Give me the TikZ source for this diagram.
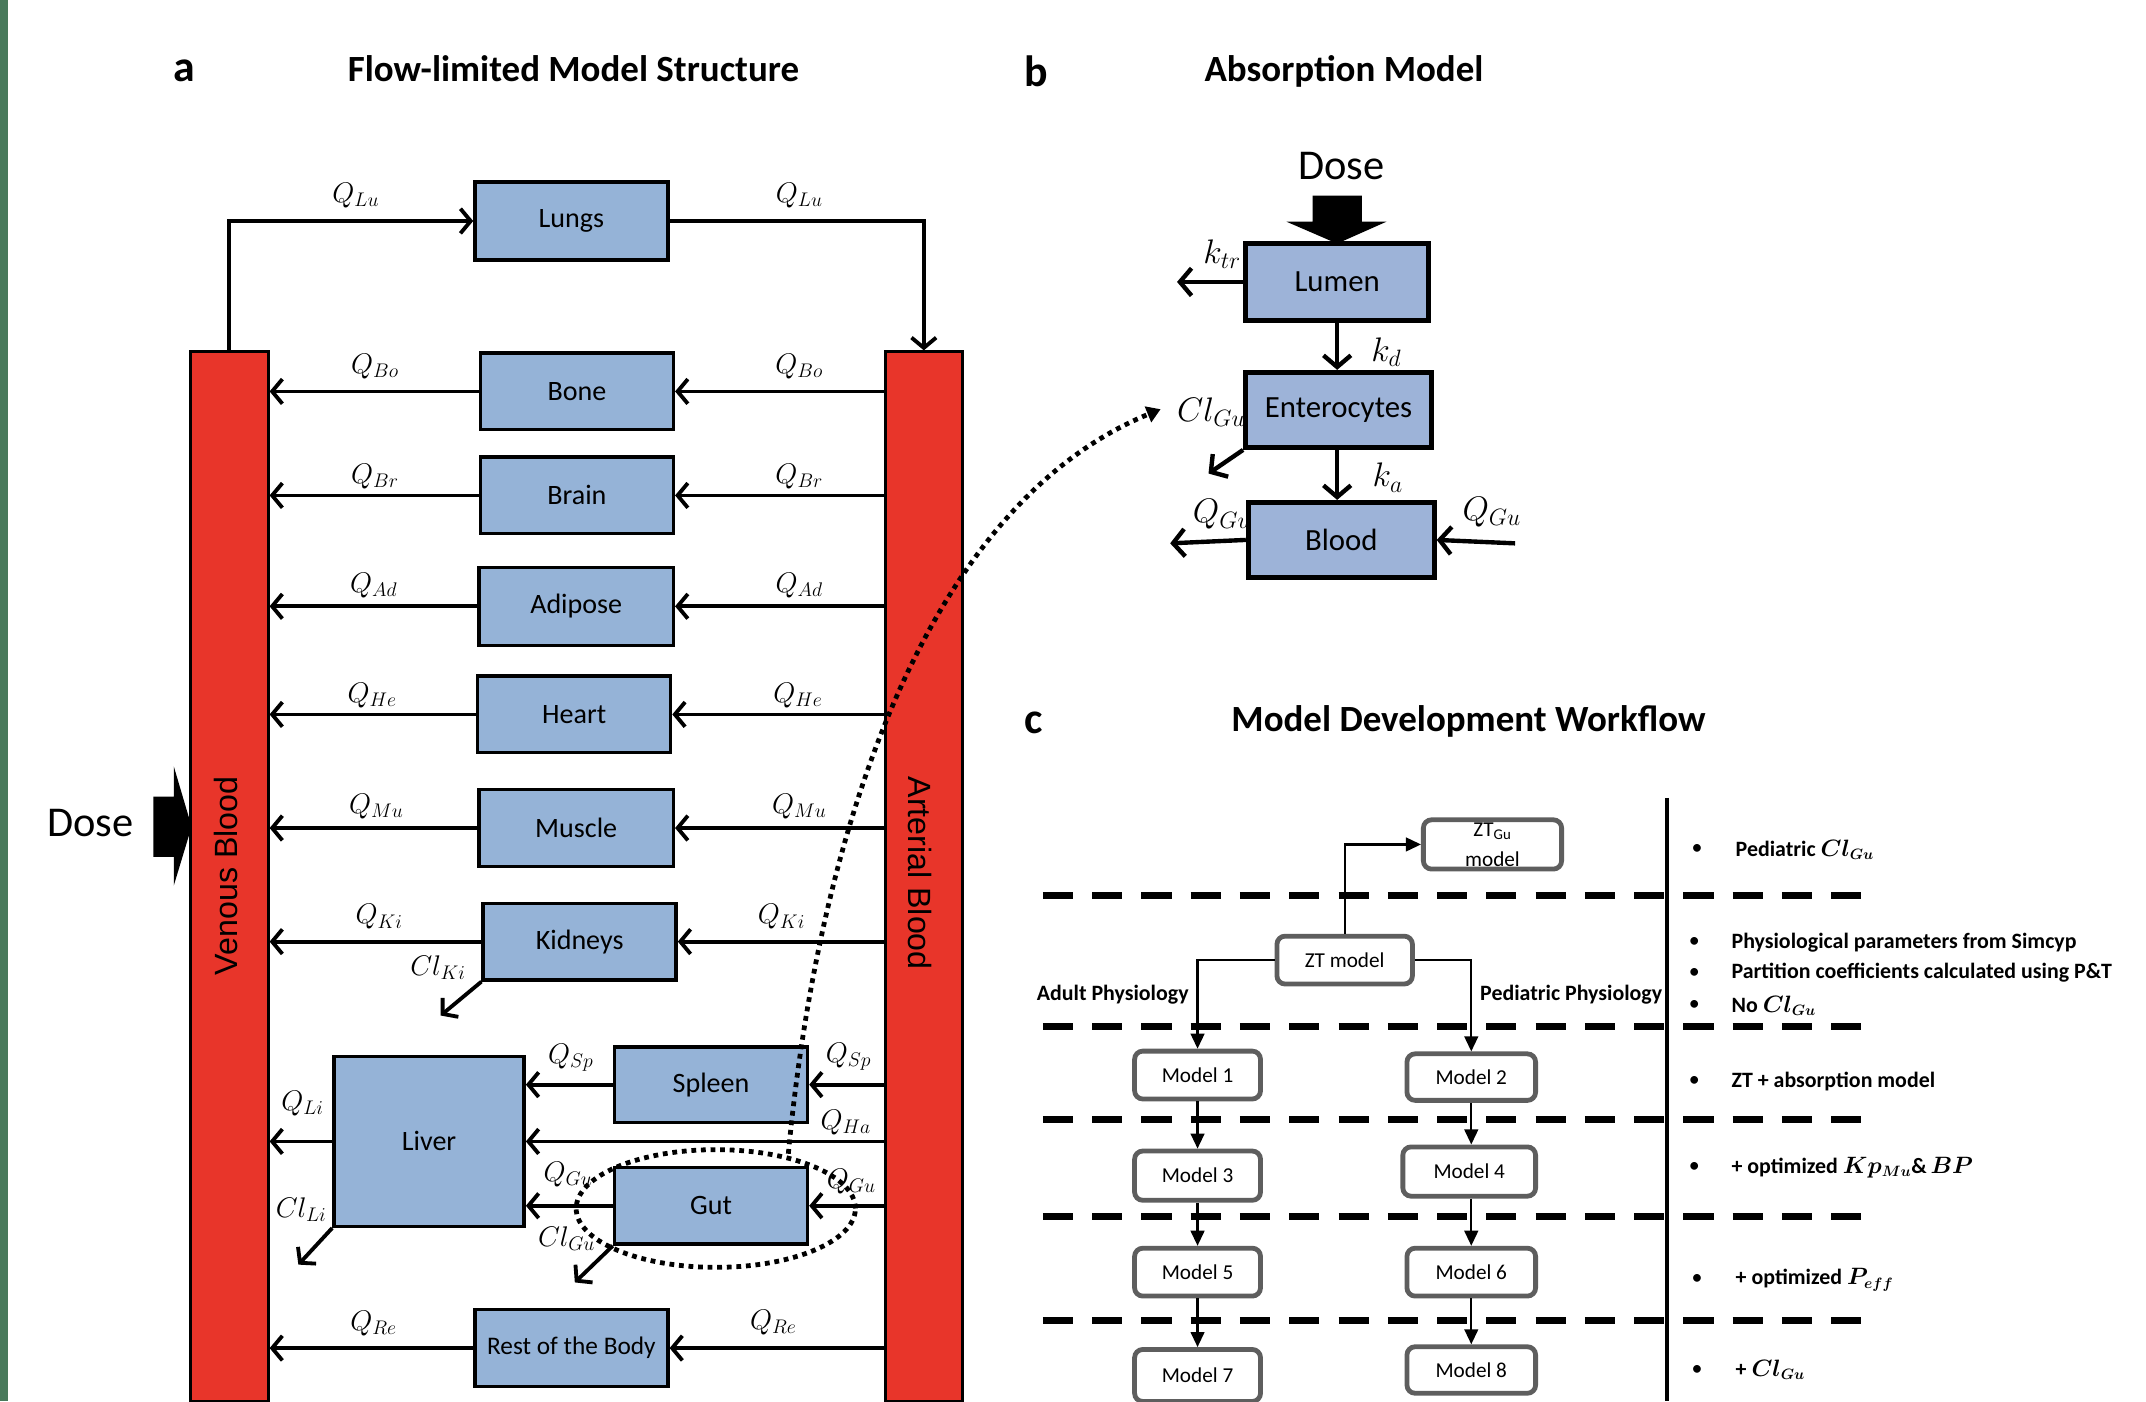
\documentclass[tikz,border=0pt]{standalone}
\usepackage{fontspec}
\setmainfont{Carlito}
\newfontfamily\arialf{Liberation Sans}
\usetikzlibrary{arrows.meta,shapes.geometric}
\definecolor{organblue}{HTML}{95B3D7}
\definecolor{absblue}{HTML}{9DB3D8}
\definecolor{bloodred}{HTML}{E8352A}
\definecolor{stripgreen}{HTML}{497A5B}
\definecolor{boxgray}{HTML}{5E5E5E}
\newcommand\fsz[2]{\fontsize{#1}{#2}\selectfont}
\begin{document}
\begin{tikzpicture}[x=1pt,y=-1pt,
  organ/.style={draw, line width=2.5pt, fill=organblue, inner sep=0pt, font=\fsz{20.5}{24}},
  absbox/.style={draw, line width=3.5pt, fill=absblue, inner sep=0pt, font=\fsz{22.5}{26}},
  bloodbar/.style={draw, line width=2pt, fill=bloodred, inner sep=0pt},
  flow/.style={line width=2.8pt, -{Straight Barb[length=7.5pt,width=18pt]}},
  aflow/.style={line width=3.2pt, -{Straight Barb[length=8.5pt,width=20pt]}},
  qlab/.style={font=\fsz{21}{24}, inner sep=0pt},
  alab/.style={font=\fsz{24}{28}, inner sep=0pt},
  title/.style={font=\fsz{27}{31}\bfseries, inner sep=0pt},
  panel/.style={font=\fsz{32}{36}\bfseries, inner sep=0pt},
  dotline/.style={line width=3.5pt, dash pattern=on 3.5pt off 3.5pt},
  mbox/.style={draw=boxgray, line width=3.5pt, rounded corners=6pt, fill=white, inner sep=0pt, font=\fsz{15.5}{18}},
  wflow/.style={line width=1.6pt, -{Triangle[length=11pt,width=10pt]}},
  sep/.style={line width=5pt, dash pattern=on 22pt off 14pt},
  ctext/.style={font=\fsz{16}{19}\bfseries\boldmath, inner sep=0pt, anchor=west},
  bul/.style={font=\fsz{16}{19}, inner sep=0pt}
]
\useasboundingbox (0,0) rectangle (1568,1024);
\fill[white] (0,0) rectangle (1568,1024);
\fill[stripgreen] (0,0) rectangle (6,1024);

% ---------------- Panel a ----------------
\node[panel] (la) at (135,52) {a};
\node[title] (ta) at (419,50) {Flow-limited Model Structure};

\node[bloodbar, minimum width=57pt, minimum height=767pt] (ven) at (167.5,640.5) {};
\node[bloodbar, minimum width=56pt, minimum height=767pt] (art) at (675,640.5) {};
\node[rotate=90, font=\arialf\fsz{23.5}{27}, inner sep=0pt] (ventext) at (165,640) {Venous Blood};
\node[rotate=-90, font=\arialf\fsz{23.5}{27}, inner sep=0pt] (arttext) at (672,638) {Arterial Blood};

\node[organ, minimum width=141pt, minimum height=57pt] (lungs) at (417.5,161.5) {Lungs};
\node[organ, minimum width=141pt, minimum height=56pt] (bone) at (421.5,286) {Bone};
\node[organ, minimum width=141pt, minimum height=56pt] (brain) at (421.5,362) {Brain};
\node[organ, minimum width=142pt, minimum height=57pt] (adipose) at (421,443) {Adipose};
\node[organ, minimum width=141pt, minimum height=56pt] (heart) at (419.5,522) {Heart};
\node[organ, minimum width=142pt, minimum height=56pt] (muscle) at (421,605) {Muscle};
\node[organ, minimum width=141pt, minimum height=56pt] (kidneys) at (423.5,688) {Kidneys};
\node[organ, minimum width=141pt, minimum height=55pt] (spleen) at (519.5,792.5) {Spleen};
\node[organ, minimum width=139pt, minimum height=124pt] (liver) at (313.5,834) {Liver};
\node[organ, minimum width=141pt, minimum height=56pt] (gut) at (519.5,881) {Gut};
\node[organ, minimum width=141pt, minimum height=56pt, font=\fsz{18.5}{21}] (rest) at (417.5,985) {Rest of the Body};

% lungs loop
\draw[flow] (ven.north) |- (lungs.west);
\draw[flow] (lungs.east) -| (art.north);
\node[qlab] (qlu1) at (260,143) {$Q_{Lu}$};
\node[qlab] (qlu2) at (584,143) {$Q_{Lu}$};

% organ rows
\foreach \o in {bone,brain,adipose,heart,muscle,kidneys,rest}{
  \draw[flow] (art.west |- \o.east) -- (\o.east);
  \draw[flow] (\o.west) -- (ven.east |- \o.west);
}
\node[qlab] (qbo1) at (274,268) {$Q_{Bo}$};
\node[qlab] (qbo2) at (584,268) {$Q_{Bo}$};
\node[qlab] (qbr1) at (274,348) {$Q_{Br}$};
\node[qlab] (qbr2) at (584,348) {$Q_{Br}$};
\node[qlab] (qad1) at (273,428) {$Q_{Ad}$};
\node[qlab] (qad2) at (584,428) {$Q_{Ad}$};
\node[qlab] (qhe1) at (272,508) {$Q_{He}$};
\node[qlab] (qhe2) at (583,508) {$Q_{He}$};
\node[qlab] (qmu1) at (275,589) {$Q_{Mu}$};
\node[qlab] (qmu2) at (584,589) {$Q_{Mu}$};
\node[qlab] (qki1) at (277,670) {$Q_{Ki}$};
\node[qlab] (qki2) at (571,670) {$Q_{Ki}$};
\node[qlab] (clki) at (320,707) {$Cl_{Ki}$};
\coordinate (clkiend) at (322,742);
\draw[flow] (kidneys.south west) -- (clkiend);
\node[qlab] (qre1) at (273,967) {$Q_{Re}$};
\node[qlab] (qre2) at (565,966) {$Q_{Re}$};

% splanchnic
\draw[flow] (art.west |- spleen.east) -- (spleen.east);
\draw[flow] (spleen.west) -- (liver.east |- spleen.west);
\draw[flow] (art.west |- liver.east) -- (liver.east);
\draw[flow] (art.west |- gut.east) -- (gut.east);
\draw[flow] (gut.west) -- (liver.east |- gut.west);
\draw[flow] (liver.west) -- (ven.east |- liver.west);
\coordinate (cliend) at (218,924);
\draw[flow] (liver.south west) -- (cliend);
\coordinate (clguend) at (420,937);
\draw[flow] (gut.south west) -- (clguend);
\node[qlab] (qsp1) at (417,773) {$Q_{Sp}$};
\node[qlab] (qsp2) at (620,772) {$Q_{Sp}$};
\node[qlab] (qha) at (618,820) {$Q_{Ha}$};
\node[qlab] (qli) at (221,806) {$Q_{Li}$};
\node[qlab] (qgu1) at (415,858) {$Q_{Gu}$};
\node[qlab] (qgu2) at (622,863) {$Q_{Gu}$};
\node[qlab] (clli) at (220,884) {$Cl_{Li}$};
\node[qlab] (clgu) at (414,905) {$Cl_{Gu}$};

% dose (left)
\node[font=\fsz{31}{36}, inner sep=0pt] (dosea) at (66,601) {Dose};
\fill (112,582) -- (127,582) -- (127,560) -- (140,604) -- (127,647) -- (127,626) -- (112,626) -- cycle;

% gut zoom ellipse and dotted link
\node[ellipse, draw, dotline, minimum width=204pt, minimum height=86pt, inner sep=0pt] (gutell) at (523,883) {};
\coordinate (dotstart) at (576,843);
\coordinate (dotend) at (848,299);
\draw[dotline, -{Triangle[length=10pt,width=12pt]}] (dotstart) .. controls (598,610) and (675,370) .. (dotend);

% ---------------- Panel b ----------------
\node[panel] (lb) at (757,52) {b};
\node[title] (tb) at (982,52) {Absorption Model};
\node[font=\fsz{31}{36}, inner sep=0pt] (doseb) at (980,121) {Dose};
\fill (959,143) -- (995,143) -- (995,162) -- (1013,162) -- (977,178) -- (940,162) -- (959,162) -- cycle;

\node[absbox, minimum width=134pt, minimum height=56pt] (lumen) at (977,206) {Lumen};
\node[absbox, minimum width=136pt, minimum height=55pt] (entero) at (978,299.5) {Enterocytes};
\node[absbox, minimum width=136pt, minimum height=55pt] (blood) at (980,394.5) {Blood};

\coordinate (ktrend) at (860,206);
\draw[aflow] (lumen.west) -- (ktrend);
\draw[aflow] (lumen.south -| 977,0) -- (entero.north -| 977,0);
\draw[aflow] (entero.south -| 977,0) -- (blood.north -| 977,0);
\coordinate (clgubend) at (883,346);
\draw[aflow] (entero.south west) -- (clgubend);
\coordinate (qguoutend) at (855,397);
\draw[aflow] (blood.west) -- (qguoutend);
\coordinate (qguinstart) at (1107,397);
\draw[aflow] (qguinstart) -- (blood.east);

\node[alab] (ktr) at (893,186) {$k_{tr}$};
\node[alab] (kd) at (1013,257) {$k_{d}$};
\node[alab] (clgub) at (885,301) {$Cl_{Gu}$};
\node[alab] (ka) at (1014,349) {$k_{a}$};
\node[alab] (qgub1) at (893,376) {$Q_{Gu}$};
\node[alab] (qgub2) at (1090,374) {$Q_{Gu}$};

% ---------------- Panel c ----------------
\node[panel] (lc) at (755,528) {c};
\node[title] (tc) at (1073,527) {Model Development Workflow};

\foreach \yy in {654,750,818,889,965}{
  \draw[sep] (762,\yy) -- (1362,\yy);
}
\draw[line width=2.6pt] (1218,583) -- (1218,1024);

\node[mbox, minimum width=101pt, minimum height=36pt, align=center, font=\fsz{15.5}{22}] (ztgu) at (1090.5,617) {ZT\textsubscript{Gu}\\model};
\node[mbox, minimum width=99pt, minimum height=35pt] (ztm) at (982.5,701.5) {ZT model};
\node[mbox, minimum width=92pt, minimum height=35pt] (m1) at (875,785.5) {Model 1};
\node[mbox, minimum width=94pt, minimum height=34pt] (m2) at (1075,787) {Model 2};
\node[mbox, minimum width=92pt, minimum height=36pt] (m3) at (875,859) {Model 3};
\node[mbox, minimum width=97pt, minimum height=36pt] (m4) at (1073.5,856) {Model 4};
\node[mbox, minimum width=92pt, minimum height=35pt] (m5) at (875,929.5) {Model 5};
\node[mbox, minimum width=94pt, minimum height=35pt] (m6) at (1075,929.5) {Model 6};
\node[mbox, minimum width=92pt, minimum height=38pt] (m7) at (875,1005) {Model 7};
\node[mbox, minimum width=94pt, minimum height=34pt] (m8) at (1075,1001) {Model 8};

\draw[wflow] (ztm.north) |- (ztgu.west);
\draw[wflow] (ztm.west) -| (m1.north);
\draw[wflow] (ztm.east) -| (m2.north);
\draw[wflow] (m1.south) -- (m3.north);
\draw[wflow] (m3.south) -- (m5.north);
\draw[wflow] (m5.south) -- (m7.north);
\draw[wflow] (m2.south) -- (m2.south |- m4.north);
\draw[wflow] (m4.south -| m2.south) -- (m6.north);
\draw[wflow] (m6.south) -- (m8.north);

\node[font=\fsz{16}{19}\bfseries, inner sep=0pt] (adult) at (813,727) {Adult Physiology};
\node[font=\fsz{16}{19}\bfseries, inner sep=0pt] (pedi) at (1148,727) {Pediatric Physiology};

\node[bul] (b1) at (1240,621) {•};
\node[ctext] (t1) at (1268,621) {Pediatric $Cl_{Gu}$};
\node[bul] (b2) at (1238,689) {•};
\node[ctext] (t2) at (1265,689) {Physiological parameters from Simcyp};
\node[bul] (b3) at (1238,711) {•};
\node[ctext] (t3) at (1265,711) {Partition coefficients calculated using P\&T};
\node[bul] (b4) at (1238,735) {•};
\node[ctext] (t4) at (1265,735) {No $Cl_{Gu}$};
\node[bul] (b5) at (1238,790) {•};
\node[ctext] (t5) at (1265,790) {ZT + absorption model};
\node[bul] (b6) at (1238,853) {•};
\node[ctext] (t6) at (1265,853) {+ optimized $Kp_{Mu}$\&\,$BP$};
\node[bul] (b7) at (1240,935) {•};
\node[ctext] (t7) at (1268,935) {+ optimized $P_{eff}$};
\node[bul] (b8) at (1240,1001) {•};
\node[ctext] (t8) at (1268,1001) {+ $Cl_{Gu}$};
\end{tikzpicture}
\end{document}
